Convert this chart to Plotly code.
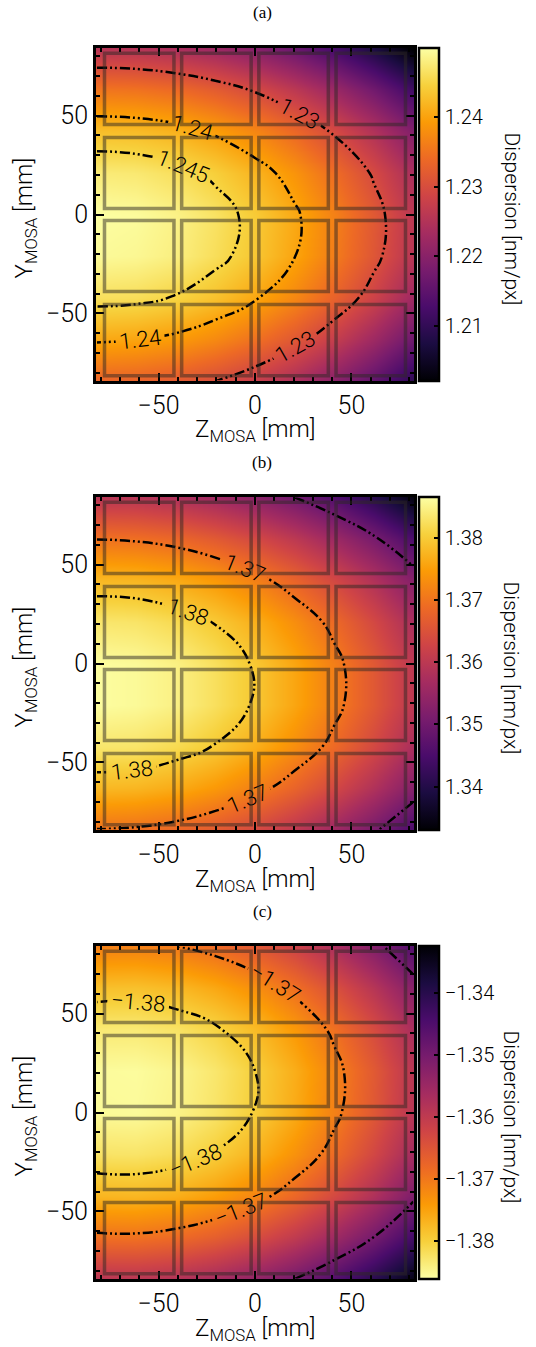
import plotly.graph_objects as go

W, H = 536, 1347

# ---------------- data ----------------
z_mm = [-82, -61.5, -41, -20.5, 0, 20.5, 41, 61.5, 82]
y_mm = [-84, -63, -42, -21, 0, 21, 42, 63, 84]

disp_a = [
    [1.2333, 1.2330, 1.2319, 1.2301, 1.2276, 1.2242, 1.2201, 1.2153, 1.2097],
    [1.2406, 1.2402, 1.2392, 1.2374, 1.2348, 1.2315, 1.2274, 1.2225, 1.2169],
    [1.2462, 1.2459, 1.2448, 1.2430, 1.2404, 1.2371, 1.2330, 1.2282, 1.2226],
    [1.2492, 1.2489, 1.2479, 1.2460, 1.2435, 1.2401, 1.2360, 1.2312, 1.2256],
    [1.2497, 1.2494, 1.2483, 1.2465, 1.2439, 1.2406, 1.2365, 1.2316, 1.2260],
    [1.2475, 1.2472, 1.2461, 1.2443, 1.2417, 1.2384, 1.2343, 1.2295, 1.2239],
    [1.2427, 1.2424, 1.2414, 1.2395, 1.2370, 1.2336, 1.2295, 1.2247, 1.2191],
    [1.2353, 1.2350, 1.2340, 1.2322, 1.2296, 1.2262, 1.2222, 1.2173, 1.2117],
    [1.2254, 1.2251, 1.2240, 1.2222, 1.2196, 1.2163, 1.2122, 1.2073, 1.2018],
]

disp_b = [
    [1.3699, 1.3695, 1.3684, 1.3664, 1.3636, 1.3601, 1.3558, 1.3508, 1.3451],
    [1.3779, 1.3776, 1.3764, 1.3744, 1.3715, 1.3678, 1.3634, 1.3583, 1.3525],
    [1.3834, 1.3831, 1.3818, 1.3798, 1.3769, 1.3731, 1.3687, 1.3634, 1.3575],
    [1.3863, 1.3859, 1.3847, 1.3825, 1.3796, 1.3758, 1.3713, 1.3660, 1.3600],
    [1.3863, 1.3859, 1.3847, 1.3825, 1.3796, 1.3758, 1.3713, 1.3660, 1.3600],
    [1.3834, 1.3831, 1.3818, 1.3798, 1.3769, 1.3731, 1.3687, 1.3634, 1.3575],
    [1.3779, 1.3776, 1.3764, 1.3744, 1.3715, 1.3678, 1.3634, 1.3583, 1.3525],
    [1.3699, 1.3695, 1.3684, 1.3664, 1.3636, 1.3601, 1.3558, 1.3508, 1.3451],
    [1.3594, 1.3592, 1.3580, 1.3561, 1.3534, 1.3500, 1.3459, 1.3405, 1.3340],
]

disp_c = [
    [-1.3590, -1.3591, -1.3582, -1.3564, -1.3537, -1.3501, -1.3456, -1.3403, -1.3342],
    [-1.3692, -1.3693, -1.3684, -1.3666, -1.3638, -1.3601, -1.3555, -1.3500, -1.3437],
    [-1.3771, -1.3772, -1.3763, -1.3744, -1.3716, -1.3678, -1.3631, -1.3576, -1.3511],
    [-1.3825, -1.3826, -1.3817, -1.3798, -1.3769, -1.3731, -1.3684, -1.3627, -1.3562],
    [-1.3854, -1.3855, -1.3845, -1.3826, -1.3798, -1.3759, -1.3711, -1.3654, -1.3589],
    [-1.3856, -1.3857, -1.3848, -1.3829, -1.3800, -1.3762, -1.3714, -1.3657, -1.3591],
    [-1.3833, -1.3833, -1.3824, -1.3805, -1.3777, -1.3738, -1.3691, -1.3634, -1.3569],
    [-1.3783, -1.3784, -1.3775, -1.3756, -1.3728, -1.3690, -1.3643, -1.3587, -1.3523],
    [-1.3709, -1.3710, -1.3701, -1.3683, -1.3655, -1.3618, -1.3571, -1.3516, -1.3453],
]

# contour levels and how many labels each line carries
levels_a = [1.23, 1.24, 1.245]
levels_b = [1.35, 1.37, 1.38]
levels_c = [-1.38, -1.37, -1.35]
label_count_a = [3, 2, 1]
label_count_b = [1, 3, 2]
label_count_c = [2, 3, 1]

cbar_ticks_a = [1.21, 1.22, 1.23, 1.24]
cbar_ticks_b = [1.34, 1.35, 1.36, 1.37, 1.38]
cbar_ticks_c = [-1.38, -1.37, -1.36, -1.35, -1.34]

crange_a = [1.2022, 1.2498]
crange_b = [1.3330, 1.3866]
crange_c = [-1.3861, -1.3325]

axis_ticks = [-50, 0, 50]
tile_z = [-60, -20, 20, 60]
tile_y = [-63.5, -21, 21, 63.5]
tile_half = 18

panel_labels = ["(a)", "(b)", "(c)"]

# ---------------- layout geometry (pixels) ----------------
PX_L, PX_R = 96, 414
TOPS = [48, 497, 946]
PH = 333
CB_X = 419
XR = [-82.4, 82.4]
YR = [-84.2, 84.2]

FONT = "Roboto"
FW = 300
DASH = "10px,3px,2px,3px,2px,3px"

# plotly spaces contour labels by (2 * plot diagonal) / (number of levels / 10);
# extra levels far outside the data range only tighten that spacing.
LEVEL_SLOTS = {1: 1, 2: 30, 3: 55}

panels = [
    (disp_a, levels_a, label_count_a, cbar_ticks_a, crange_a, False),
    (disp_b, levels_b, label_count_b, cbar_ticks_b, crange_b, False),
    (disp_c, levels_c, label_count_c, cbar_ticks_c, crange_c, True),
]

fig = go.Figure()
layout = dict(
    width=W, height=H, margin=dict(l=0, r=0, t=0, b=0),
    paper_bgcolor="white", plot_bgcolor="white",
    font=dict(family=FONT, size=20, color="black", weight=FW),
    showlegend=False, shapes=[], annotations=[],
)

for i, (zz, levels, nlab, cticks, crange, rev) in enumerate(panels):
    sfx = "" if i == 0 else str(i + 1)
    xa, ya = "x" + sfx, "y" + sfx
    top = TOPS[i]
    y0p = 1 - (top + PH) / H
    y1p = 1 - top / H
    ymid = (y0p + y1p) / 2

    fig.add_trace(go.Heatmap(
        x=z_mm, y=y_mm, z=zz, zsmooth="best",
        colorscale="Inferno", reversescale=rev,
        zmin=crange[0], zmax=crange[1],
        xaxis=xa, yaxis=ya, hoverinfo="skip",
        colorbar=dict(
            x=CB_X / W, xanchor="left", xpad=0, thickness=20,
            len=PH, lenmode="pixels", y=ymid, yanchor="middle", ypad=0,
            outlinewidth=2.5, outlinecolor="black",
            ticks="inside", ticklen=6, tickwidth=2, tickcolor="black",
            tickvals=cticks, tickformat=".2f",
            tickfont=dict(family=FONT, size=20, color="black"),
        ),
    ))
    for lv, nl in zip(levels, nlab):
        slots = LEVEL_SLOTS[nl]
        fig.add_trace(go.Contour(
            x=z_mm, y=y_mm, z=zz, autocontour=False,
            contours=dict(start=lv, end=lv + (slots - 1) * 1.0, size=1.0,
                          coloring="none",
                          showlabels=True, labelformat=".3~f",
                          labelfont=dict(family=FONT, size=22, color="black")),
            line=dict(color="black", width=2.5, dash=DASH, smoothing=1.3),
            showscale=False, hoverinfo="skip", xaxis=xa, yaxis=ya,
        ))

    common = dict(
        ticks="inside", ticklen=8, tickwidth=2, tickcolor="black",
        showline=True, linewidth=3, linecolor="black", mirror="allticks",
        showgrid=False, zeroline=False, tickvals=axis_ticks,
        tickfont=dict(family=FONT, size=25, color="black"),
        minor=dict(dtick=10, tick0=0, ticks="inside", ticklen=4, tickwidth=1.5,
                   tickcolor="black", showgrid=False),
    )
    layout["xaxis" + sfx] = dict(common, domain=[PX_L / W, PX_R / W], range=XR,
                                 anchor=ya)
    layout["yaxis" + sfx] = dict(common, domain=[y0p, y1p], range=YR, anchor=xa)

    for tz in tile_z:
        for ty in tile_y:
            layout["shapes"].append(dict(
                type="rect", xref=xa, yref=ya, layer="above",
                x0=tz - tile_half, x1=tz + tile_half,
                y0=ty - tile_half, y1=ty + tile_half,
                line=dict(color="rgba(45,40,35,0.5)", width=3.5),
                fillcolor="rgba(0,0,0,0)",
            ))

    ann_font = dict(family=FONT, size=24, color="black")
    layout["annotations"] += [
        dict(text="Z<sub>MOSA</sub> [mm]", xref="paper", yref="paper",
             x=(PX_L + PX_R) / 2 / W, y=1 - (top + PH + 50) / H,
             xanchor="center", yanchor="middle", showarrow=False, font=ann_font),
        dict(text="Y<sub>MOSA</sub> [mm]", xref="paper", yref="paper",
             x=25 / W, y=1 - (top + PH / 2 + 4) / H, textangle=-90,
             xanchor="center", yanchor="middle", showarrow=False, font=ann_font),
        dict(text="Dispersion [nm/px]", xref="paper", yref="paper",
             x=511 / W, y=1 - (top + PH / 2 + 4) / H, textangle=90,
             xanchor="center", yanchor="middle", showarrow=False,
             font=dict(family=FONT, size=21, color="black")),
        dict(text=panel_labels[i], xref="paper", yref="paper",
             x=262 / W, y=1 - (top - 35) / H,
             xanchor="center", yanchor="middle", showarrow=False,
             font=dict(family="Liberation Serif", size=17, color="black")),
    ]

fig.update_layout(**layout)
fig.write_html("out.html")
